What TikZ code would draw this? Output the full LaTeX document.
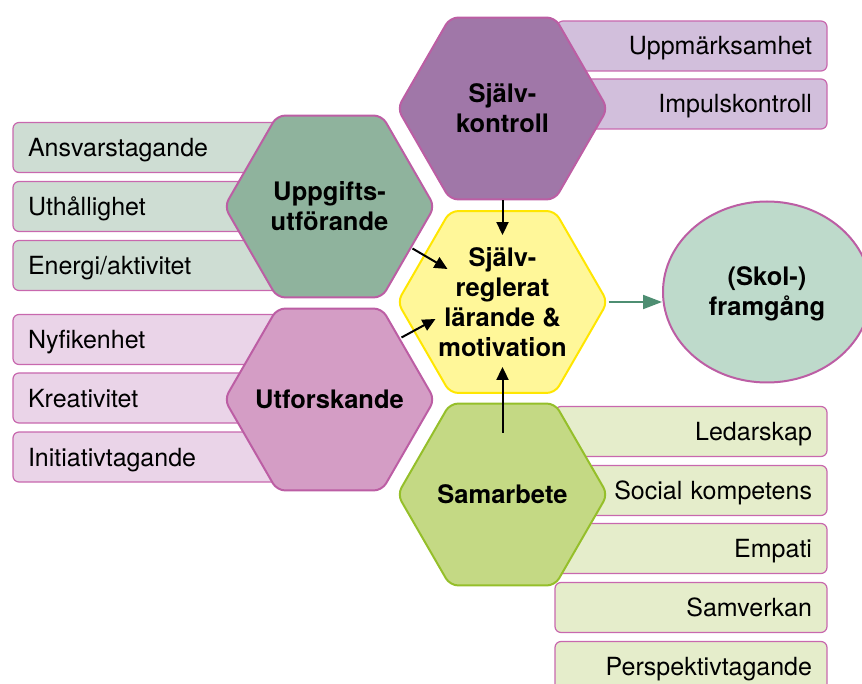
\documentclass[tikz,border=0pt]{standalone}
\usepackage{fontspec}
\setmainfont{TeX Gyre Heros}
\usetikzlibrary{shapes.geometric,arrows.meta,calc}
\definecolor{boxline}{HTML}{C868AE}
\definecolor{hexline}{HTML}{BC5EA4}
\definecolor{skfill}{HTML}{A077A8}
\definecolor{ugfill}{HTML}{8FB39D}
\definecolor{utfill}{HTML}{D49DC5}
\definecolor{srfill}{HTML}{FFF799}
\definecolor{srline}{HTML}{FFE600}
\definecolor{safill}{HTML}{C4D984}
\definecolor{saline}{HTML}{95BF2A}
\definecolor{goalfill}{HTML}{BEDACB}
\definecolor{bpurple}{HTML}{D2BFDC}
\definecolor{bgreen}{HTML}{CEDDD3}
\definecolor{bpink}{HTML}{EAD4E8}
\definecolor{blime}{HTML}{E5EDCB}
\definecolor{garrow}{HTML}{4E8E72}
\begin{document}
\begin{tikzpicture}[x=1pt,y=-1pt,
  box/.style={draw=boxline, line width=1.2pt, rounded corners=6pt, minimum height=50pt,
    inner xsep=15pt, inner ysep=0pt, text height=18pt, text depth=0pt,
    font=\fontsize{25}{30}\selectfont},
  lbox/.style={box, text width=257pt, align=left},
  rbox/.style={box, text width=240pt, align=right},
  rboxb/.style={box, text width=242pt, align=right},
  hexa/.style={regular polygon, regular polygon sides=6, minimum size=210pt, inner sep=0pt,
    rounded corners=8pt, line width=2pt},
  hlabel/.style={align=center, inner sep=0pt, font=\bfseries\fontsize{25.5}{30}\selectfont},
  arr/.style={line width=2pt, -{Triangle[length=13pt,width=12pt]}},
  garr/.style={draw=garrow, line width=2pt, -{Triangle[length=19pt,width=14pt]}, garrow}
]
\clip (0,0) rectangle (862,684);

% left boxes
\node[lbox, fill=bgreen] (b1) at (156.5,147.5) {Ansvarstagande};
\node[lbox, fill=bgreen] (b2) at (156.5,206.5) {Uthållighet};
\node[lbox, fill=bgreen] (b3) at (156.5,265.5) {Energi/aktivitet};
\node[lbox, fill=bpink] (b4) at (156.5,339.5) {Nyfikenhet};
\node[lbox, fill=bpink] (b5) at (156.5,398) {Kreativitet};
\node[lbox, fill=bpink] (b6) at (156.5,457) {Initiativtagande};
% right boxes
\node[rbox, fill=bpurple] (b7) at (692,46) {Uppmärksamhet};
\node[rbox, fill=bpurple] (b8) at (692,104) {Impulskontroll};
\node[rboxb, fill=blime] (b9) at (691,431.5) {Ledarskap};
\node[rboxb, fill=blime] (b10) at (691,490.5) {Social kompetens};
\node[rboxb, fill=blime] (b11) at (691,548.5) {Empati};
\node[rboxb, fill=blime] (b12) at (691,607.5) {Samverkan};
\node[rboxb, fill=blime] (b13) at (691,666.5) {Perspektivtagande};

% hexagons
\node[hexa, fill=skfill, draw=hexline] (sk) at (502.5,108.5) {};
\node[hexa, fill=ugfill, draw=hexline] (ug) at (329.5,206.5) {};
\node[hexa, fill=utfill, draw=hexline] (ut) at (329.5,399.5) {};
\node[hexa, fill=srfill, draw=srline] (sr) at (502.5,302) {};
\node[hexa, fill=safill, draw=saline] (sa) at (502.5,494.5) {};
\node[hlabel] (skl) at (sk.center) {Själv-\\kontroll};
\node[hlabel] (ugl) at (ug.center) {Uppgifts-\\utförande};
\node[hlabel] (utl) at (ut.center) {Utforskande};
\node[hlabel] (srl) at (sr.center) {Själv-\\reglerat\\lärande \&\\motivation};
\node[hlabel] (sal) at (sa.center) {Samarbete};

% goal
\node[ellipse, fill=goalfill, draw=hexline, line width=2pt, minimum width=208pt,
  minimum height=181pt, inner sep=0pt] (goal) at (767,292) {};
\node[hlabel] (goall) at ($(goal.center)+(0,2)$) {(Skol-)\\framgång};

% arrows
\draw[arr] (sk.south) -- ($(sr.north)+(0,25)$);
\draw[arr] ($(sa.center)+(0,-62)$) -- ($(sr.south)+(0,-27)$);
\draw[arr] ($(ug.center)+(83,42)$) -- ($(sr.center)+(-55,-33)$);
\draw[arr] ($(ut.center)+(72,-62)$) -- ($(sr.center)+(-67,17)$);
\draw[garr] (sr.east) -- (goal.west |- sr.east);
\end{tikzpicture}
\end{document}
